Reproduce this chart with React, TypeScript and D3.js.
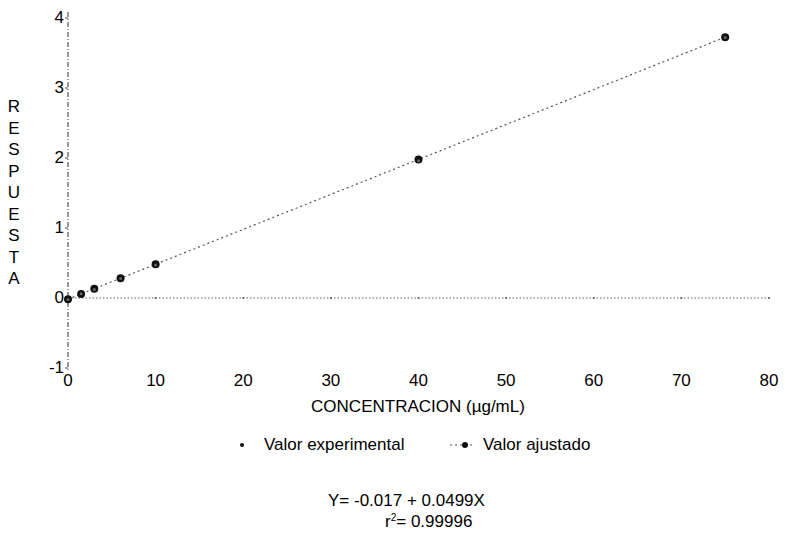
import * as d3 from 'd3';

const concentracion = [0, 1.5, 3, 6, 10, 40, 75];
const experimental = [-0.02, 0.06, 0.12, 0.28, 0.47, 1.96, 3.72];
const ajustado = [-0.017, 0.058, 0.133, 0.282, 0.482, 1.979, 3.726];
const xTicks = [0, 10, 20, 30, 40, 50, 60, 70, 80];
const yTicks = [-1, 0, 1, 2, 3, 4];
const yTitle = 'RESPUESTA'.split('');

const font = '"Liberation Sans", Arial, sans-serif';

export default function App() {
  const width = 785;
  const height = 538;

  const x = d3.scaleLinear().domain([0, 80]).range([68, 769]);
  const y = d3.scaleLinear().domain([-1, 4]).range([368, 18]);

  const line = d3
    .line<number>()
    .x((_, i) => x(concentracion[i]))
    .y(d => y(d));

  return (
    <svg
      width={width}
      height={height}
      style={{ position: 'absolute', left: 0, top: 0, background: '#fff' }}
    >
      {/* y axis */}
      <line
        x1={x(0)}
        x2={x(0)}
        y1={y(4) - 6}
        y2={y(-1) + 4}
        stroke="#555"
        strokeWidth={1.2}
        strokeDasharray="5,2,1,2"
      />
      {yTicks.map(t => (
        <g key={t}>
          <line x1={x(0) - 3} x2={x(0)} y1={y(t)} y2={y(t)} stroke="#444" />
          <text
            x={x(0) - 4}
            y={y(t) + 1}
            textAnchor="end"
            dominantBaseline="middle"
            fontFamily={font}
            fontSize={17}
            fill="#000"
          >
            {t}
          </text>
        </g>
      ))}

      {/* zero line */}
      <line
        x1={x(0)}
        x2={x(80)}
        y1={y(0)}
        y2={y(0)}
        stroke="#666"
        strokeWidth={1}
        strokeDasharray="1.5,2"
      />
      {xTicks.slice(1).map(t => (
        <circle key={t} cx={x(t)} cy={y(0)} r={1} fill="#555" />
      ))}

      {/* x tick labels */}
      {xTicks.map(t => (
        <text
          key={t}
          x={x(t)}
          y={382}
          textAnchor="middle"
          dominantBaseline="middle"
          fontFamily={font}
          fontSize={17}
          fill="#000"
        >
          {t}
        </text>
      ))}

      <text
        x={418}
        y={408}
        textAnchor="middle"
        dominantBaseline="middle"
        fontFamily={font}
        fontSize={17}
        fill="#000"
      >
        CONCENTRACION (µg/mL)
      </text>

      {yTitle.map((c, i) => (
        <text
          key={i}
          x={14}
          y={108 + i * 21.5}
          textAnchor="middle"
          dominantBaseline="middle"
          fontFamily={font}
          fontSize={17}
          fill="#000"
        >
          {c}
        </text>
      ))}

      {/* fitted line */}
      <path
        d={line(ajustado) || ''}
        fill="none"
        stroke="#555"
        strokeWidth={1.2}
        strokeDasharray="2,3"
      />
      {ajustado.map((v, i) => (
        <circle key={i} cx={x(concentracion[i])} cy={y(v)} r={4} fill="#111" />
      ))}
      {experimental.map((v, i) => (
        <circle key={i} cx={x(concentracion[i])} cy={y(v)} r={1.5} fill="#666" />
      ))}

      {/* legend */}
      <circle cx={242} cy={445} r={2} fill="#111" />
      <text x={264} y={446} dominantBaseline="middle" fontFamily={font} fontSize={17} fill="#000">
        Valor experimental
      </text>
      <line
        x1={450}
        x2={474}
        y1={445}
        y2={445}
        stroke="#555"
        strokeWidth={1.2}
        strokeDasharray="2,3"
      />
      <circle cx={465} cy={445} r={3} fill="#111" />
      <text x={483} y={446} dominantBaseline="middle" fontFamily={font} fontSize={17} fill="#000">
        Valor ajustado
      </text>

      {/* equation */}
      <text x={328} y={502} dominantBaseline="middle" fontFamily={font} fontSize={17} fill="#000">
        Y= -0.017 + 0.0499X
      </text>
      <text x={385} y={523} dominantBaseline="middle" fontFamily={font} fontSize={17} fill="#000">
        r<tspan fontSize={10} dy={-5}>2</tspan>
        <tspan dy={5}>= 0.99996</tspan>
      </text>
    </svg>
  );
}
